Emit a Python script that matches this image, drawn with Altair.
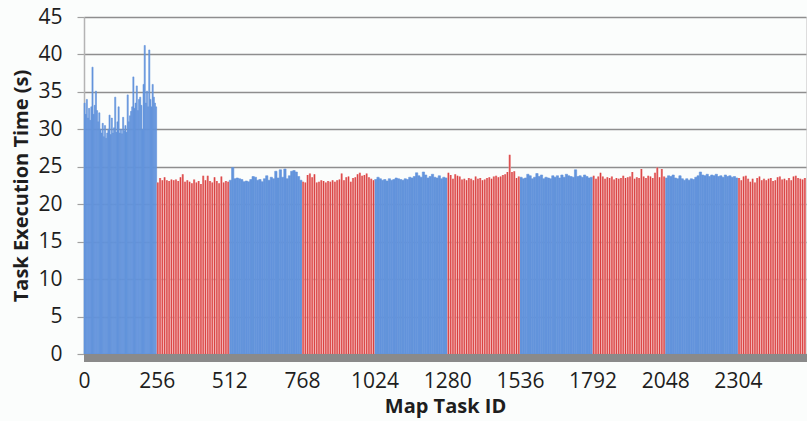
import altair as alt
import pandas as pd

# Map task execution times, grouped in waves of 256 tasks.
# Each value is the time of one bar; block 1 bars cover 4 tasks, the rest 8.
wave_01 = [33.5, 32.0, 34.0, 31.5, 32.8, 31.2, 33.0, 38.3, 32.0, 33.2, 35.1, 32.5,
           31.0, 32.2, 30.0, 29.5, 30.8, 29.0, 30.5, 28.8, 29.5, 30.0, 31.9, 29.3,
           31.5, 29.5, 30.2, 34.3, 29.6, 31.0, 33.0, 29.5, 30.0, 29.4, 31.6, 29.8,
           30.5, 29.6, 34.6, 31.0, 31.8, 32.4, 33.0, 37.0, 32.8, 33.5, 35.8, 32.5,
           34.0, 34.3, 33.2, 30.0, 36.0, 41.2, 33.5, 35.1, 33.0, 40.6, 34.0, 33.0,
           36.0, 34.3, 33.5, 33.0]
wave_02 = [22.9, 23.5, 23.2, 23.6, 23.2, 23.1, 23.3, 23.2, 23.3, 23.1, 23.6, 24.0,
           23.0, 23.2, 23.0, 22.8, 23.3, 22.9, 23.1, 22.7, 23.8, 23.2, 23.8, 23.1,
           22.9, 23.6, 23.1, 22.8, 23.7, 22.9, 23.1, 23.0]
wave_03 = [23.2, 24.9, 23.4, 23.5, 23.4, 23.3, 23.0, 23.1, 23.0, 23.3, 23.7, 23.6,
           23.2, 23.3, 23.0, 23.4, 23.8, 23.2, 23.6, 23.4, 24.4, 23.5, 24.6, 23.6,
           24.7, 23.4, 23.8, 24.4, 24.5, 24.3, 23.7, 23.2]
wave_04 = [23.0, 22.9, 23.9, 24.1, 23.6, 24.0, 22.9, 23.0, 23.2, 23.1, 22.9, 23.1,
           23.0, 23.2, 23.0, 23.2, 23.3, 24.1, 23.2, 23.6, 23.7, 23.0, 23.5, 23.6,
           24.0, 24.2, 23.8, 23.9, 24.1, 23.6, 23.4, 23.2]
wave_05 = [23.3, 23.6, 23.4, 23.2, 23.3, 23.1, 23.4, 23.2, 23.3, 23.5, 23.4, 23.3,
           23.2, 23.4, 23.3, 23.6, 23.5, 23.7, 24.2, 23.8, 23.6, 24.3, 23.9, 23.5,
           23.7, 24.0, 23.6, 23.5, 23.8, 23.4, 23.6, 23.5]
wave_06 = [24.2, 23.9, 23.4, 24.0, 23.8, 23.7, 23.3, 23.4, 23.2, 23.5, 23.4, 23.2,
           23.7, 23.4, 23.5, 23.2, 23.3, 23.5, 23.6, 23.4, 23.7, 23.8, 23.6, 23.7,
           23.9, 24.0, 24.3, 26.6, 24.3, 24.4, 23.5, 23.7]
wave_07 = [23.6, 23.4, 23.5, 24.0, 23.8, 23.4, 23.6, 24.1, 23.7, 23.9, 23.4, 23.6,
           23.5, 23.4, 23.8, 23.6, 23.8, 23.5, 23.9, 23.6, 24.0, 23.8, 23.7, 23.6,
           24.6, 23.7, 23.8, 23.6, 23.9, 23.7, 23.5, 23.6]
wave_08 = [23.8, 23.4, 23.7, 24.2, 23.7, 23.4, 23.6, 23.5, 23.7, 23.3, 23.5, 23.4,
           23.5, 23.8, 23.5, 23.6, 23.7, 24.3, 23.4, 23.6, 23.5, 24.7, 23.7, 23.5,
           23.8, 23.7, 23.5, 24.2, 24.9, 23.6, 24.7, 23.7]
wave_09 = [23.5, 23.8, 23.7, 23.9, 23.5, 23.4, 23.8, 23.4, 23.2, 23.4, 23.2, 23.4,
           23.3, 23.6, 23.8, 24.3, 23.9, 23.8, 24.0, 23.7, 23.9, 23.8, 24.0, 23.7,
           23.8, 23.6, 23.9, 23.7, 23.8, 23.6, 23.7, 23.5]
wave_10 = [23.5, 23.2, 23.7, 23.8, 23.4, 23.0, 23.4, 22.9, 23.5, 23.7, 23.2, 23.4,
           23.2, 23.4, 23.5, 23.1, 23.2, 23.6, 23.7, 23.3, 23.4, 23.2, 23.5, 23.2,
           23.7, 23.8, 23.5, 23.4, 23.3, 23.5]

waves = [wave_01, wave_02, wave_03, wave_04, wave_05,
         wave_06, wave_07, wave_08, wave_09, wave_10]
tasks_per_bar = [4, 8, 8, 8, 8, 8, 8, 8, 8, 8]
wave_kind = ["blue", "red"] * 5

x_ticks = [0, 256, 512, 768, 1024, 1280, 1536, 1792, 2048, 2304]
y_ticks = [0, 5, 10, 15, 20, 25, 30, 35, 40, 45]

rows = []
for w, (vals, span, kind) in enumerate(zip(waves, tasks_per_bar, wave_kind)):
    base = w * 256
    for i, v in enumerate(vals):
        start = base + i * span
        rows.append({"start": start, "end": start + span,
                     "mid": start + span / 2, "time": v, "kind": kind})
df = pd.DataFrame(rows)
x_max = float(df["end"].max())

W, H = 722, 337
FONT = "Open Sans"
TEXT = "#1e1e1e"

x_scale = alt.Scale(domain=[0, x_max], nice=False, zero=False)
y_scale = alt.Scale(domain=[0, 45], nice=False)

x_axis = alt.Axis(values=x_ticks, format="d", title="Map Task ID", grid=False,
                  domain=False, ticks=False, labelFontSize=21, labelPadding=16,
                  labelColor=TEXT, labelFlush=False, labelOverlap=False,
                  titleFontSize=20, titleFontWeight="bold", titleColor=TEXT,
                  titlePadding=5)
y_axis = alt.Axis(values=y_ticks, title="Task Execution Time (s)", grid=True,
                  gridColor="#8e8e8e", gridWidth=1.4, domain=True,
                  domainColor="#b4b4b4", domainWidth=1.5, ticks=True,
                  tickSize=7, tickColor="#a0a0a0", tickWidth=1.2,
                  labelFontSize=21, labelPadding=15, labelColor=TEXT,
                  titleFontSize=20, titleFontWeight="bold", titleColor=TEXT,
                  titlePadding=6)

base = alt.Chart(df)

blue = base.transform_filter(alt.datum.kind == "blue").mark_rect(
    color="#6394dc", stroke="#6394dc", strokeWidth=0.6
).encode(
    x=alt.X("start:Q", scale=x_scale, axis=x_axis),
    x2="end:Q",
    y=alt.Y("time:Q", scale=y_scale, axis=y_axis),
    y2=alt.datum(0),
)

pink = base.transform_filter(alt.datum.kind == "red").mark_rect(
    color="#ee9c9c"
).encode(
    x=alt.X("start:Q", scale=x_scale, axis=x_axis),
    x2="end:Q",
    y=alt.Y("time:Q", scale=y_scale, axis=y_axis),
    y2=alt.datum(0),
)

red = base.transform_filter(alt.datum.kind == "red").mark_rule(
    color="#d21f1f", strokeWidth=0.75
).encode(
    x=alt.X("mid:Q", scale=x_scale, axis=x_axis),
    y=alt.Y("time:Q", scale=y_scale, axis=y_axis),
    y2=alt.datum(0),
)

floor = alt.Chart(pd.DataFrame({"f": [0]})).mark_rect(color="#8a8a8a").encode(
    x=alt.value(0), x2=alt.value(W + 2), y=alt.value(H), y2=alt.value(H + 8)
)

chart = alt.layer(blue, pink, red, floor).properties(
    width=W, height=H,
    autosize=alt.AutoSizeParams(type="none"),
    padding={"left": 84, "top": 17, "right": 1, "bottom": 67},
    background="#fbfdfc",
).configure_view(stroke=None).configure(font=FONT)

chart.save("out.html", embed_options={"renderer": "svg", "actions": False})
